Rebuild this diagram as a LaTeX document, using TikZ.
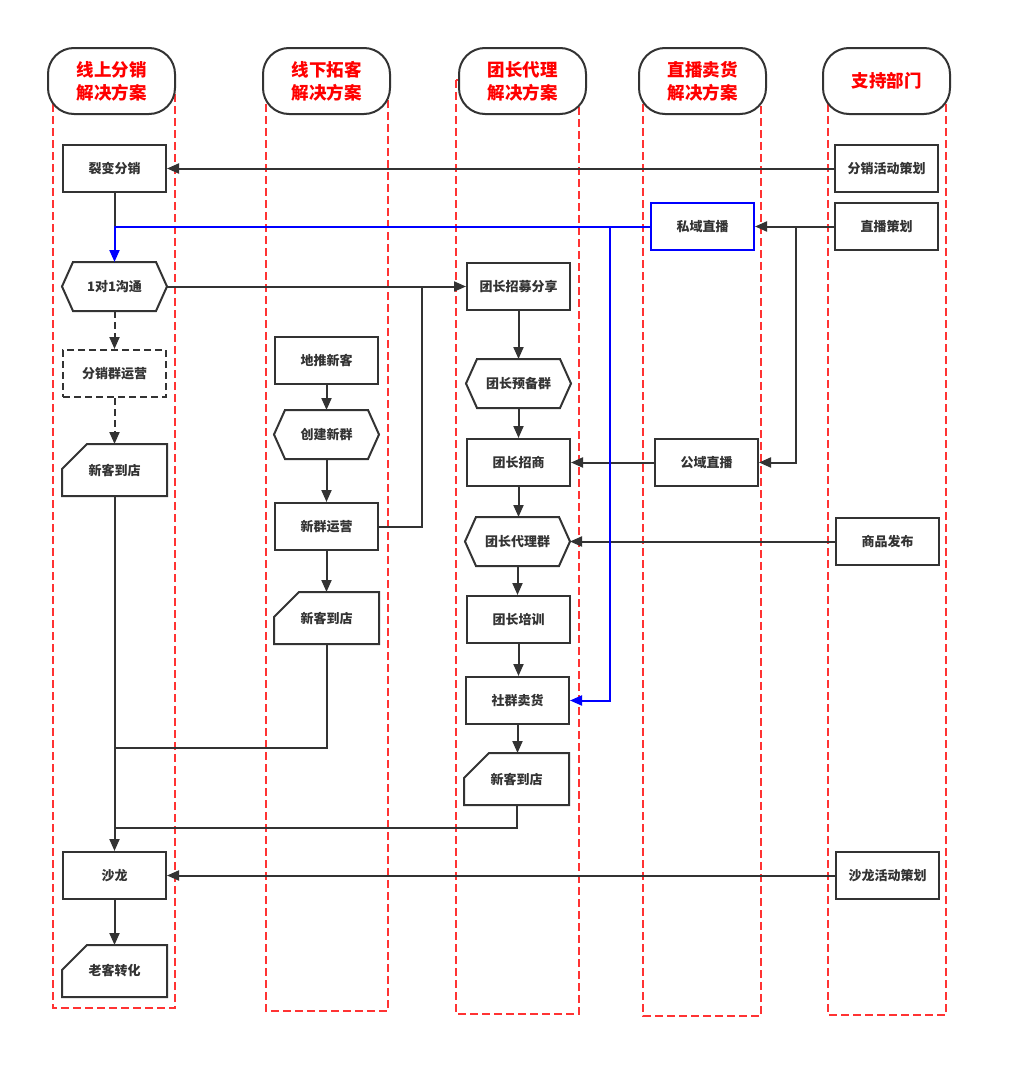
\documentclass[tikz,border=0pt]{standalone}
\usepackage{fontspec}
\newfontfamily\cjk{Noto Sans CJK SC}
\usetikzlibrary{arrows.meta}
\definecolor{ink}{HTML}{333333}
\definecolor{lanered}{HTML}{FF3333}
\definecolor{hdrred}{HTML}{FF0000}
\definecolor{blu}{HTML}{0000FF}
\tikzset{
 box/.style={draw=ink, line width=2pt, fill=white, minimum width=103pt, minimum height=47pt, inner sep=0pt, font=\cjk\bfseries\fontsize{13}{15}\selectfont, text=ink},
 plainbox/.style={box, draw=none, fill=none},
 cardbox/.style={plainbox, minimum height=50pt},
 dashbox/.style={box, dashed, dash pattern=on 7pt off 4pt},
 bluebox/.style={box, draw=blu},
 lane/.style={draw=lanered, line width=1.7pt, dash pattern=on 8pt off 4pt},
 hdr/.style={draw=ink, line width=2pt, fill=white, rounded corners=26pt, minimum width=127pt, minimum height=66pt, align=center, inner sep=0pt, font=\cjk\bfseries\fontsize{17.5}{23}\selectfont, text=hdrred},
 conn/.style={draw=ink, line width=2pt, -{Triangle[length=12pt,width=10pt]}},
 line/.style={draw=ink, line width=2pt},
 bconn/.style={draw=blu, line width=2pt, -{Triangle[length=12pt,width=10pt]}},
 outline/.style={draw=ink, line width=2pt, fill=white}
}
\newcommand\hexout[1]{\path[outline] ([xshift=11pt]#1.north west) -- ([xshift=-11pt]#1.north east) -- (#1.east) -- ([xshift=-11pt]#1.south east) -- ([xshift=11pt]#1.south west) -- (#1.west) -- cycle;}
\newcommand\cardout[1]{\path[outline] ([xshift=25pt]#1.north west) -- (#1.north east) -- (#1.south east) -- (#1.south west) -- ([yshift=-25pt]#1.north west) -- cycle;}
\begin{document}
\begin{tikzpicture}[x=1pt,y=-1pt]
\useasboundingbox (0,0) rectangle (1012,1079);
% lanes
\draw[lane] (53,80) rectangle (175,1008);
\draw[lane] (266,80) rectangle (388,1011);
\draw[lane] (456,80) rectangle (579,1014);
\draw[lane] (643,80) rectangle (761,1016);
\draw[lane] (828,80) rectangle (946,1015);
% headers
\node[hdr] (h1) at (111.5,81) {线上分销\\解决方案};
\node[hdr] (h2) at (326.5,81) {线下拓客\\解决方案};
\node[hdr] (h3) at (522.5,81) {团长代理\\解决方案};
\node[hdr] (h4) at (702.5,81) {直播卖货\\解决方案};
\node[hdr] (h5) at (886.5,81) {支持部门};
% lane 1
\node[box] (lb) at (114.5,168.5) {裂变分销};
\node[plainbox] (yy) at (114.5,286.5) {};
\node[dashbox] (fq) at (114.5,373.5) {分销群运营};
\node[cardbox] (xk1) at (114.5,470) {};
\node[box] (sl) at (114.5,875.5) {沙龙};
\node[cardbox] (lk) at (114.5,971) {};
% lane 2
\node[box] (dt) at (326.5,360.5) {地推新客};
\node[plainbox] (cj) at (326.5,434.5) {};
\node[box] (xq) at (326.5,526.5) {新群运营};
\node[cardbox] (xk2) at (326.5,618) {};
% lane 3
\node[box] (zm) at (518.5,286.5) {团长招募分享};
\node[plainbox] (yb) at (518.5,383.5) {};
\node[box] (zs) at (518.5,462.5) {团长招商};
\node[plainbox] (dl) at (517.5,541.5) {};
\node[box] (px) at (518.5,619.5) {团长培训};
\node[box] (mh) at (517.5,700.5) {社群卖货};
\node[cardbox] (xk3) at (516.5,779) {};
% lane 4
\node[bluebox] (sy) at (702.5,226.5) {私域直播};
\node[box] (gy) at (706.5,462.5) {公域直播};
% lane 5
\node[box] (fc) at (886.5,168.5) {分销活动策划};
\node[box] (zc) at (886.5,226.5) {直播策划};
\node[box] (sp) at (887.5,541.5) {商品发布};
\node[box] (sc) at (887.5,875.5) {沙龙活动策划};
% custom outlines
\hexout{yy}\hexout{cj}\hexout{yb}\hexout{dl}
\cardout{xk1}\cardout{xk2}\cardout{xk3}\cardout{lk}
\node[plainbox] at (yy) {1对1沟通};
\node[plainbox] at (cj) {创建新群};
\node[plainbox] at (yb) {团长预备群};
\node[plainbox] at (dl) {团长代理群};
\node[plainbox] at (xk1) {新客到店};
\node[plainbox] at (xk2) {新客到店};
\node[plainbox] at (xk3) {新客到店};
\node[plainbox] at (lk) {老客转化};
% junction coordinates
\coordinate (j1) at (422,286.5);
\coordinate (j2) at (114.5,747.5);
\coordinate (j3) at (114.5,828);
\coordinate (j4) at (610,226.5);
\coordinate (j5) at (796,226.5);
\coordinate (j6) at (114.5,226.5);
% connectors
\draw[conn] (fc.west) -- (lb.east);
\draw[line] (lb.south) -- (j6);
\draw[conn] (zc.west) -- (sy.east);
\draw[conn] (j5) |- (gy.east);
\draw[conn] (yy.east) -- (zm.west);
\draw[line] (xq.east) -| (j1);
\draw[conn, dashed, dash pattern=on 7pt off 4pt] (yy.south) -- (fq.north);
\draw[conn, dashed, dash pattern=on 7pt off 4pt] (fq.south) -- (xk1.north);
\draw[conn] (xk1.south) -- (sl.north);
\draw[line] (xk2.south) |- (j2);
\draw[line] (xk3.south) |- (j3);
\draw[conn] (sc.west) -- (sl.east);
\draw[conn] (sl.south) -- (lk.north);
\draw[conn] (dt.south) -- (cj.north);
\draw[conn] (cj.south) -- (xq.north);
\draw[conn] (xq.south) -- (xk2.north);
\draw[conn] (zm.south) -- (yb.north);
\draw[conn] (yb.south) -- (zs.north);
\draw[conn] (zs.south) -- (zs.south |- dl.north);
\draw[conn] (dl.south) -- (dl.south |- px.north);
\draw[conn] (px.south) -- (px.south |- mh.north);
\draw[conn] (mh.south) -- (mh.south |- xk3.north);
\draw[conn] (gy.west) -- (zs.east);
\draw[conn] (sp.west) -- (dl.east);
% blue connectors
\draw[bconn] (sy.west) -| (yy.north);
\draw[bconn] (j4) |- (mh.east);
\end{tikzpicture}
\end{document}
